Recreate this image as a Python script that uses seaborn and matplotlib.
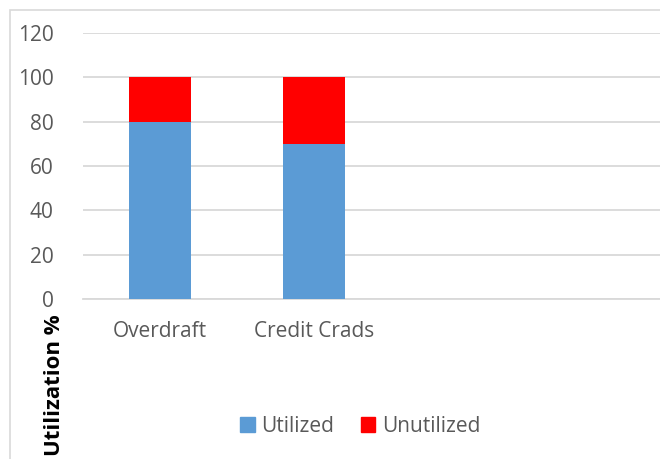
import matplotlib
matplotlib.use("Agg")
import matplotlib.pyplot as plt
from matplotlib.patches import Patch, Rectangle
import pandas as pd
import seaborn as sns

# chart values
categories = ["Overdraft", "Credit Crads"]
utilized = [80, 70]
unutilized = [20, 30]
y_ticks = [0, 20, 40, 60, 80, 100, 120]

BLUE = "#5B9BD5"
RED = "#FF0000"
GREY = "#595959"

sns.set_style("white")
plt.rcParams["font.family"] = ["Open Sans", "DejaVu Sans"]

df = pd.DataFrame({"category": categories, "utilized": utilized, "unutilized": unutilized})
df["total"] = df["utilized"] + df["unutilized"]

W, H = 660, 459
fig = plt.figure(figsize=(6.6, 4.59), dpi=100)
ax = fig.add_axes([83 / W, 1 - 299 / H, 1 - 83 / W, (299 - 33) / H])

# stacked bars: draw totals (red) then utilized (blue) on top
sns.barplot(data=df, x="category", y="total", color=RED, width=0.40,
            saturation=1, linewidth=0, ax=ax, zorder=2)
sns.barplot(data=df, x="category", y="utilized", color=BLUE, width=0.40,
            saturation=1, linewidth=0, ax=ax, zorder=3)

ax.set_xlim(-0.5, 3.25)
ax.set_ylim(0, 120)
ax.set_yticks(y_ticks)
ax.yaxis.grid(True, color="#D9D9D9", lw=1.3, zorder=0)
ax.set_axisbelow(True)
for s in ["top", "right", "left"]:
    ax.spines[s].set_visible(False)
ax.spines["bottom"].set_color("#D9D9D9")
ax.spines["bottom"].set_linewidth(1.3)
ax.tick_params(axis="both", length=0, labelsize=15, colors=GREY)
ax.tick_params(axis="y", pad=21)
ax.tick_params(axis="x", pad=16)
ax.set_xlabel("")
ax.set_ylabel("")

# axis title sits low on the left, as in the original
fig.text(55 / W, 1 - 385 / H, "Utilization %", rotation=90, ha="center", va="center",
         fontsize=16, fontweight="bold", color="black")

handles = [Patch(color=BLUE, label="Utilized"), Patch(color=RED, label="Unutilized")]
fig.legend(handles=handles, loc="center", bbox_to_anchor=(360 / W, 1 - 426 / H), ncol=2,
           frameon=False, fontsize=15, labelcolor=GREY, handlelength=0.7, handleheight=0.7,
           handletextpad=0.3, columnspacing=1.3)

# outer chart border (cropped on the right and bottom)
fig.patches.append(Rectangle((10 / W, -0.1), 1.2, 1 - 10 / H + 0.1, transform=fig.transFigure,
                             fill=False, edgecolor="#D9D9D9", lw=1.2))

fig.savefig("out.png", dpi=100)
